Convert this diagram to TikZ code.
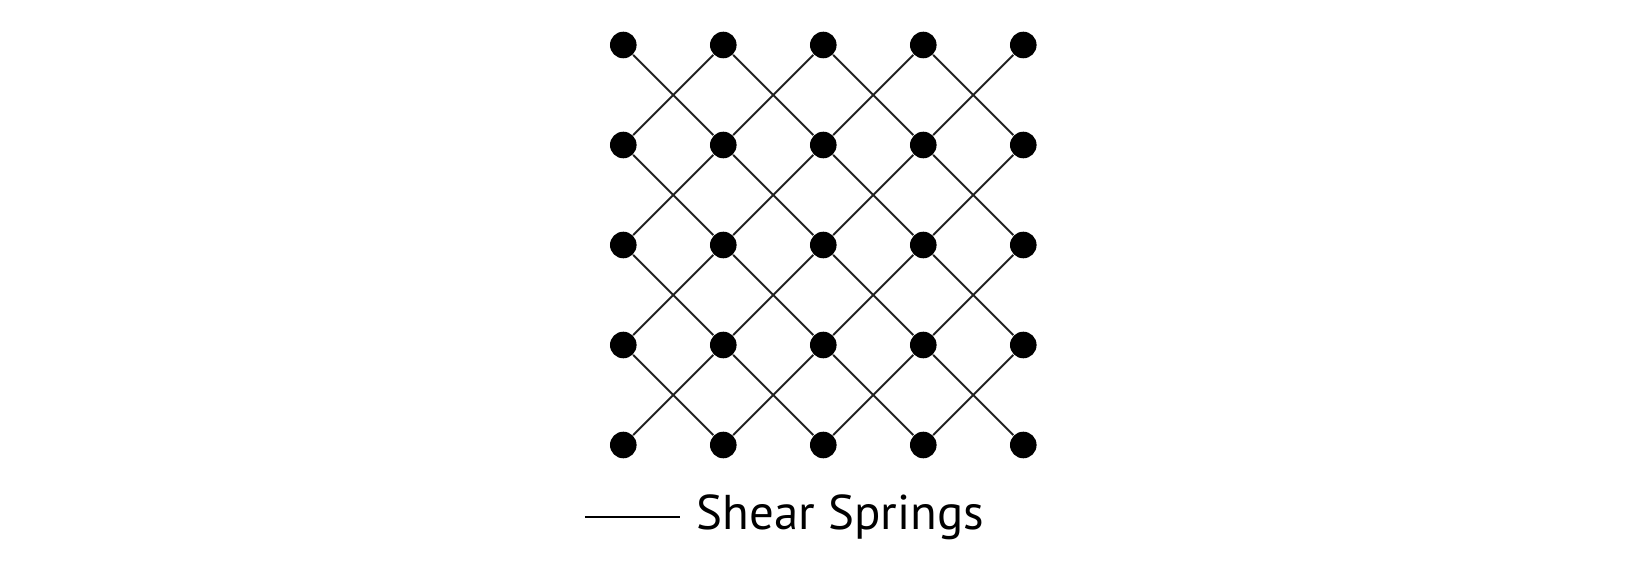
\documentclass[tikz,border=0pt]{standalone}
\usepackage{fontspec}
\setmainfont{PT Sans}
\usetikzlibrary{positioning}
\definecolor{ink}{HTML}{000000}
\definecolor{wirec}{HTML}{222222}
\tikzset{dot/.style={circle,fill=ink,minimum size=2.66mm,inner sep=0pt},
  spring/.style={draw=wirec,line width=.55pt}}

\begin{document}
\begin{tikzpicture}
\useasboundingbox (-6.233,-1.18) rectangle (10.267,4.45);
\foreach \i in {0,...,4}{\foreach \j in {0,...,4}{
\node[dot] (n\i\j) at (\i,\j) {};}}
\foreach \i in {0,...,3}{\foreach \j in {0,...,3}{
\pgfmathtruncatemacro{\ip}{\i+1}
\pgfmathtruncatemacro{\jp}{\j+1}
\draw[spring] (n\i\j)--(n\ip\jp);
\draw[spring] (n\ip\j)--(n\i\jp);}}
% legend
\coordinate (la) at (-.383,-.723);
\coordinate (lb) at (.567,-.723);
\draw[spring,draw=ink] (la)--(lb);
\node[anchor=base west,inner sep=0pt,font=\fontsize{13.9}{16}\selectfont] (lab) at (.73,-.85) {Shear Springs};
\end{tikzpicture}
\end{document}
